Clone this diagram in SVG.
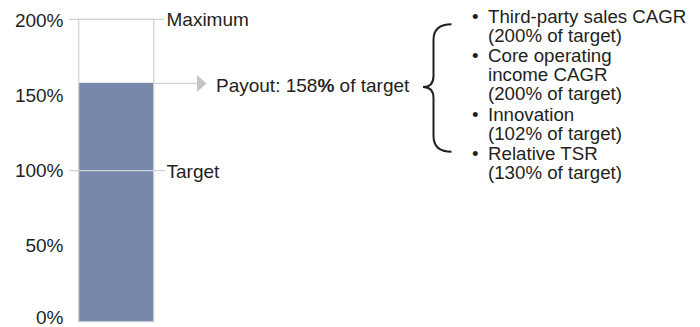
<svg xmlns="http://www.w3.org/2000/svg" width="700" height="327" viewBox="0 0 700 327">
<style>
text{font-family:"Liberation Sans",Arial,sans-serif;font-size:19px;fill:#231f20}
.ax{text-anchor:end}
.bl{font-size:18.7px}
.grid{stroke:#cfd1d4;stroke-width:1.2;fill:none}
</style>
<rect width="700" height="327" fill="#ffffff"/>
<g id="bar">
<rect x="79" y="82.8" width="74.6" height="238.9" fill="#7788ab"/>
<rect x="78.7" y="19.3" width="75" height="302.4" class="grid"/>
</g>
<g id="axis">
<text class="ax" x="63.5" y="26.5">200%</text>
<text class="ax" x="63.5" y="101.5">150%</text>
<text class="ax" x="63.5" y="177">100%</text>
<text class="ax" x="63.5" y="252">50%</text>
<text class="ax" x="63.5" y="324">0%</text>
</g>
<g id="connectors">
<line x1="69" y1="19.3" x2="164" y2="19.3" class="grid"/>
<line x1="69" y1="170.7" x2="165" y2="170.7" stroke="#cdd1da" stroke-width="1.2"/>
<line x1="153.7" y1="83.3" x2="197" y2="83.3" class="grid"/>
<polygon points="197,75 206.5,83.5 197,92" fill="#c3c5c9"/>
<path d="M451.5,24.3 C440,24.3 433.5,29 433.5,40 L433.5,76 C433.5,83 430,87 423,87 C430,87 433.5,91 433.5,98 L433.5,136 C433.5,147 440,151.7 451.5,151.7" fill="none" stroke="#231f20" stroke-width="2"/>
</g>
<g id="maximum"><text x="166.5" y="26">Maximum</text></g>
<g id="target"><text x="166.5" y="178">Target</text></g>
<g id="payout"><text x="216" y="91.5">Payout: 158<tspan font-weight="bold">%</tspan> of target</text></g>
<g id="bullets">
<text class="bl" x="472" y="23">•</text>
<text class="bl" x="488" y="23">Third-party sales CAGR</text>
<text class="bl" x="488" y="42">(200% of target)</text>
<text class="bl" x="472" y="62">•</text>
<text class="bl" x="488" y="62">Core operating</text>
<text class="bl" x="488" y="81">income CAGR</text>
<text class="bl" x="488" y="100">(200% of target)</text>
<text class="bl" x="472" y="121">•</text>
<text class="bl" x="488" y="121">Innovation</text>
<text class="bl" x="488" y="140">(102% of target)</text>
<text class="bl" x="472" y="160">•</text>
<text class="bl" x="488" y="160">Relative TSR</text>
<text class="bl" x="488" y="179">(130% of target)</text>
</g>
</svg>
